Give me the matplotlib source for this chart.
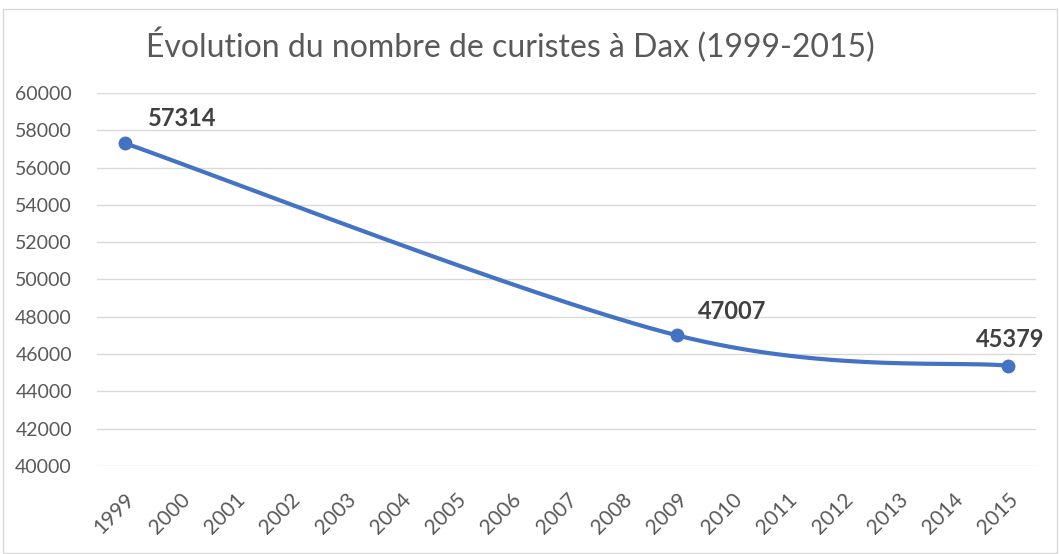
import numpy as np
import matplotlib
matplotlib.use("Agg")
import matplotlib.pyplot as plt
from matplotlib.patches import Rectangle

years = [str(y) for y in range(1999, 2016)]
point_years = ["1999", "2009", "2015"]
point_values = [57314, 47007, 45379]
yticks = list(range(40000, 60001, 2000))
title = "Évolution du nombre de curistes à Dax (1999-2015)"

plt.rcParams['font.family'] = ['Lato', 'DejaVu Sans']

W, H = 1059, 554
fig = plt.figure(figsize=(W / 100, H / 100), dpi=100)
ax = fig.add_axes([97 / W, 1 - 466 / H, (1036 - 97) / W, (466 - 93) / H])

xs = np.array([years.index(y) for y in point_years], dtype=float)
ys = np.array(point_values, dtype=float)

# Excel-style smoothed line (cubic Bezier with Catmull-Rom control points)
P = np.column_stack([xs, ys])
curve = []
n = len(P)
for i in range(n - 1):
    p0 = P[i - 1] if i > 0 else P[i]
    p1 = P[i]
    p2 = P[i + 1]
    p3 = P[i + 2] if i + 2 < n else P[i + 1]
    c1 = p1 + (p2 - p0) / 6
    c2 = p2 - (p3 - p1) / 6
    t = np.linspace(0, 1, 100)[:, None]
    seg = (1 - t) ** 3 * p1 + 3 * (1 - t) ** 2 * t * c1 + 3 * (1 - t) * t ** 2 * c2 + t ** 3 * p2
    curve.append(seg)
curve = np.vstack(curve)

ax.plot(curve[:, 0], curve[:, 1], color="#4472C4", lw=3, solid_capstyle="round", zorder=3)
ax.plot(xs, ys, "o", color="#4472C4", ms=9, zorder=4)

offsets = [(1.05, 1340), (1.0, 1290), (0.04, 1390)]
for x, y, (dx, dy) in zip(xs, ys, offsets):
    ax.text(x + dx, y + dy, str(int(y)), ha="center", va="center", fontsize=17,
            fontweight="bold", color="#404040", zorder=5)

ax.set_xlim(-0.5, len(years) - 0.5)
ax.set_ylim(40000, 60000)
ax.set_yticks(yticks)
ax.set_yticklabels([str(v) for v in yticks])
ax.set_xticks(range(len(years)))
ax.set_xticklabels(years, rotation=45, ha="right", va="top", rotation_mode="anchor")
ax.tick_params(axis="both", length=0, labelsize=14, colors="#595959")
ax.tick_params(axis="x", labelsize=15)
ax.tick_params(axis="y", pad=18)
ax.tick_params(axis="x", pad=17)
ax.grid(axis="y", color="#D9D9D9", lw=1)
ax.set_axisbelow(True)
for s in ax.spines.values():
    s.set_visible(False)

fig.text(510 / W, 1 - 45 / H, title, ha="center", va="center", fontsize=23,
         color="#595959")

fig.patches.append(Rectangle((3 / W, 0.002), (W - 5) / W, 1 - 9 / H - 0.002,
                             transform=fig.transFigure, fill=False, edgecolor="#D9D9D9", lw=1))

fig.savefig("out.png", dpi=100)
